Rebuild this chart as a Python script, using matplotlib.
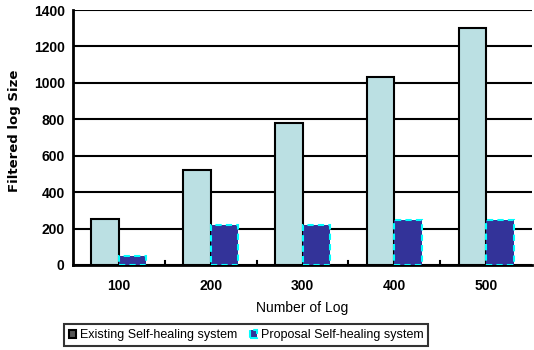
import matplotlib
matplotlib.use("Agg")
import matplotlib.pyplot as plt
import numpy as np
from matplotlib.patches import Patch

categories = ["100", "200", "300", "400", "500"]
existing = [250, 520, 780, 1030, 1300]
proposal = [50, 220, 220, 245, 245]
yticks = [0, 200, 400, 600, 800, 1000, 1200, 1400]

plt.rcParams['font.family'] = ['Liberation Sans', 'DejaVu Sans']

fig = plt.figure(figsize=(5.34, 3.5), dpi=100)
ax = fig.add_axes([73/534, 1-265/350, (532-73)/534, 255/350])

x = np.arange(len(categories))
w = 0.3
ax.bar(x - w/2, existing, width=w, color="#BBE0E3", edgecolor="black", linewidth=1.5, zorder=3)
ax.bar(x + w/2, proposal, width=w, color="#333399", edgecolor="#00FFFF", linewidth=1.5,
       linestyle=(0, (3, 2)), zorder=3)

ax.set_xlim(-0.5, len(categories) - 0.5)
ax.set_ylim(0, 1400)
ax.set_yticks(yticks)
ax.set_yticklabels([str(v) for v in yticks], fontsize=10, fontweight="bold")
ax.set_xticks(x)
ax.set_xticklabels(categories, fontsize=10, fontweight="bold")
ax.tick_params(axis="x", length=0, pad=10)
ax.tick_params(axis="y", length=0, pad=6)

# group separator ticks along the bottom axis
for b in np.arange(0.5, len(categories) - 0.5, 1):
    ax.plot([b, b], [0, 20], color="black", lw=1.5, zorder=4, clip_on=False)

ax.grid(axis="y", color="black", linewidth=1.5, zorder=0)
for s in ["top", "right"]:
    ax.spines[s].set_visible(False)
ax.spines["left"].set_linewidth(2)
ax.spines["bottom"].set_linewidth(2)

fig.text(15/534, 1-131/350, "Filtered log Size", rotation=90, ha="center", va="center",
         fontsize=9.5, fontweight="bold", family=["DejaVu Sans"])
ax.set_xlabel("Number of Log", fontsize=10, labelpad=6)

handles = [Patch(facecolor="#333399", edgecolor="black", linewidth=1.5),
           Patch(facecolor="#333399", edgecolor="#00FFFF", linewidth=1.5, linestyle="--")]
leg = fig.legend(handles, ["Existing Self-healing system", "Proposal Self-healing system"],
                 loc="center", bbox_to_anchor=(246/534, 1-335/350), ncol=2, fontsize=9,
                 frameon=True, fancybox=False, edgecolor="black", handlelength=0.6,
                 handleheight=0.6, handletextpad=0.3, columnspacing=1.0, borderpad=0.4)
leg.get_frame().set_linewidth(1.5)
leg.legend_handles[0].set_facecolor("#555555")

fig.savefig("out.png", dpi=100)
